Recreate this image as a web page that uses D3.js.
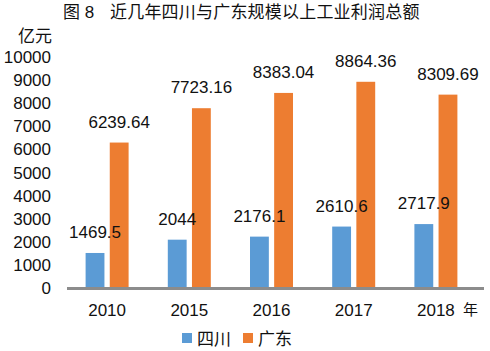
<!DOCTYPE html>
<html><head><meta charset="utf-8">
<script src="https://cdn.jsdelivr.net/npm/d3@7"></script>
<style>
html,body{margin:0;padding:0;background:#fff;}
svg{display:block;}
text{font-family:"Liberation Sans","Noto Sans CJK SC",Arial,sans-serif;fill:#111;}
</style></head><body>
<svg id="chart" width="490" height="351"></svg>
<script>
const years = ["2010","2015","2016","2017","2018"];
const seriesNames = ["四川","广东"];
const sichuan = [1469.5, 2044, 2176.1, 2610.6, 2717.9];
const guangdong = [6239.64, 7723.16, 8383.04, 8864.36, 8309.69];
const sichuanLabels = ["1469.5","2044","2176.1","2610.6","2717.9"];
const guangdongLabels = ["6239.64","7723.16","8383.04","8864.36","8309.69"];
const yTicks = [0,1000,2000,3000,4000,5000,6000,7000,8000,9000,10000];
const colors = ["#5b9bd5","#ed7d31"];

const svg = d3.select("#chart");
const y = d3.scaleLinear().domain([0,10000]).range([287,55.5]);
const x = d3.scaleBand().domain(years).range([66,477]).paddingInner(0).paddingOuter(0);
const x1 = d3.scaleBand().domain(seriesNames).range([-21.5,21.5]).paddingInner(0.22).paddingOuter(0);
const cx = d => x(d) + x.bandwidth()/2;

// title
svg.append("text").attr("x",63).attr("y",18).attr("font-size",17).text("图 8");
svg.append("text").attr("x",110).attr("y",18).attr("font-size",17).attr("letter-spacing",0.2)
  .text("近几年四川与广东规模以上工业利润总额");
// unit
svg.append("text").attr("x",18).attr("y",41.5).attr("font-size",17).text("亿元");

// y axis labels
const yAxis = d3.axisLeft(y).tickValues(yTicks).tickSize(0).tickPadding(0).tickFormat(d3.format("d"));
const gy = svg.append("g").attr("transform","translate(51,0)").call(yAxis);
gy.select(".domain").remove();
gy.selectAll("text").attr("font-size",17).attr("font-family",null).attr("fill","#111").attr("dy","0.4em");

// bars
const data = [sichuan, guangdong];
const labels = [sichuanLabels, guangdongLabels];
data.forEach((vals,si)=>{
  svg.append("g").selectAll("rect").data(vals).join("rect")
    .attr("x",(d,i)=>cx(years[i]) + x1(seriesNames[si]))
    .attr("width",x1.bandwidth())
    .attr("y",d=>y(d))
    .attr("height",d=>y(0)-y(d))
    .attr("fill",colors[si]);
});
data.forEach((vals,si)=>{
  svg.append("g").selectAll("text").data(vals).join("text")
    .attr("x",(d,i)=>cx(years[i]) + x1(seriesNames[si]) + x1.bandwidth()/2)
    .attr("y",d=>y(d)-15)
    .attr("text-anchor","middle")
    .attr("font-size",17)
    .text((d,i)=>labels[si][i]);
});

// x axis
const xAxis = d3.axisBottom(x).tickSize(0).tickPadding(0);
const gx = svg.append("g").attr("transform","translate(0,"+y(0)+")").call(xAxis);
gx.select(".domain").remove();
gx.selectAll("text").attr("font-size",17).attr("font-family",null).attr("fill","#111").attr("dy",null).attr("y",29);
svg.append("line").attr("x1",67).attr("x2",484).attr("y1",y(0)+1.5).attr("y2",y(0)+1.5)
  .attr("stroke","#8c8c8c").attr("stroke-width",3);
svg.append("text").attr("x",463).attr("y",315).attr("font-size",15).text("年");

// legend
const legX = [182,243];
seriesNames.forEach((n,i)=>{
  svg.append("rect").attr("x",legX[i]).attr("y",333).attr("width",10).attr("height",10).attr("fill",colors[i]);
  svg.append("text").attr("x",legX[i]+15).attr("y",344.5).attr("font-size",17).text(n);
});
</script>
</body></html>
